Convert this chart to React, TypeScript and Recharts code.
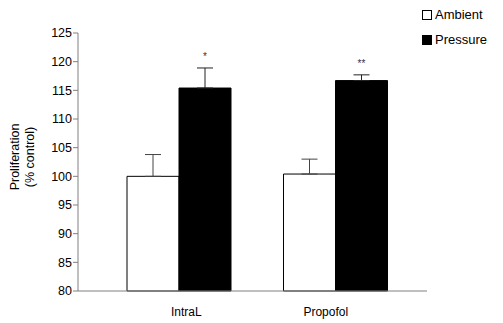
import { BarChart, Bar, XAxis, YAxis, ErrorBar, LabelList } from "recharts";

const categories = ["IntraL", "Propofol"];
const ambient = [100.0, 100.4];
const ambientErr = [3.8, 2.6];
const pressure = [115.4, 116.7];
const pressureErr = [3.5, 1.0];
const significance = ["*", "**"];
const yTicks = [80, 85, 90, 95, 100, 105, 110, 115, 120, 125];

const data = categories.map((name, i) => ({
  name,
  ambient: ambient[i],
  ambientErr: [0, ambientErr[i]],
  pressure: pressure[i],
  pressureErr: [0, pressureErr[i]],
  sig: significance[i],
}));

const font = "Arial, 'Liberation Sans', sans-serif";

// the original's category labels sit a little off the group centres
const labelShift = [7, -10];

const renderTick = (props: any) => {
  const { x, y, payload, index } = props;
  return (
    <text x={x + labelShift[index]} y={y} dy="0.71em" textAnchor="middle" fontSize={12} fontFamily={font} fill="#000">
      {payload.value}
    </text>
  );
};

// star sits just above the top of the error bar
const renderStar = (props: any) => {
  const { x, y, width, height, index, value } = props;
  const pxPerUnit = height / (pressure[index] - 80);
  const top = y - pressureErr[index] * pxPerUnit;
  return (
    <text x={x + width / 2} y={top - 8} textAnchor="middle" fontSize={10} fontFamily={font} fill="#333">
      {value}
    </text>
  );
};

const renderYLabel = () => (
  <g transform="translate(22,157) rotate(-90)">
    <text x={0} y={-3} textAnchor="middle" fontSize={12.5} fontFamily={font} fill="#000">
      Proliferation
    </text>
    <text x={0} y={12} textAnchor="middle" fontSize={12.5} fontFamily={font} fill="#000">
      (% control)
    </text>
  </g>
);

export default function App() {
  return (
    <div style={{ position: "absolute", left: 0, top: 0, width: 503, height: 323, background: "#fff" }}>
      <BarChart width={503} height={323} data={data} margin={{ top: 33, right: 76, bottom: 0, left: 0 }} barGap={0}>
        <XAxis
          dataKey="name"
          height={32}
          stroke="#808080"
          tickLine={false}
          tickSize={0}
          tickMargin={16}
          padding={{ left: 23, right: 13 }}
          tick={renderTick}
        />
        <YAxis
          width={78}
          domain={[80, 125]}
          ticks={yTicks}
          interval={0}
          stroke="#808080"
          tickSize={5}
          tickMargin={1}
          tick={{ fontSize: 12.5, fill: "#000", fontFamily: font }}
          label={{ content: renderYLabel }}
        />
        <Bar dataKey="ambient" barSize={52} fill="#fff" stroke="#000" strokeWidth={1} isAnimationActive={false}>
          <ErrorBar dataKey="ambientErr" width={8} stroke="#444" strokeWidth={1} direction="y" />
        </Bar>
        <Bar dataKey="pressure" barSize={52} fill="#000" stroke="#000" strokeWidth={1} isAnimationActive={false}>
          <ErrorBar dataKey="pressureErr" width={8} stroke="#222" strokeWidth={1} direction="y" />
          <LabelList dataKey="sig" content={renderStar} />
        </Bar>
      </BarChart>
      <div style={{ position: "absolute", left: 422, top: 7, fontFamily: font, fontSize: 13, color: "#000", lineHeight: "15px" }}>
        <div style={{ display: "flex", alignItems: "center" }}>
          <span style={{ width: 8, height: 8, border: "1px solid #000", background: "#fff", marginRight: 3 }} />
          Ambient
        </div>
        <div style={{ display: "flex", alignItems: "center", marginTop: 10 }}>
          <span style={{ width: 10, height: 10, background: "#000", marginRight: 3 }} />
          Pressure
        </div>
      </div>
    </div>
  );
}
